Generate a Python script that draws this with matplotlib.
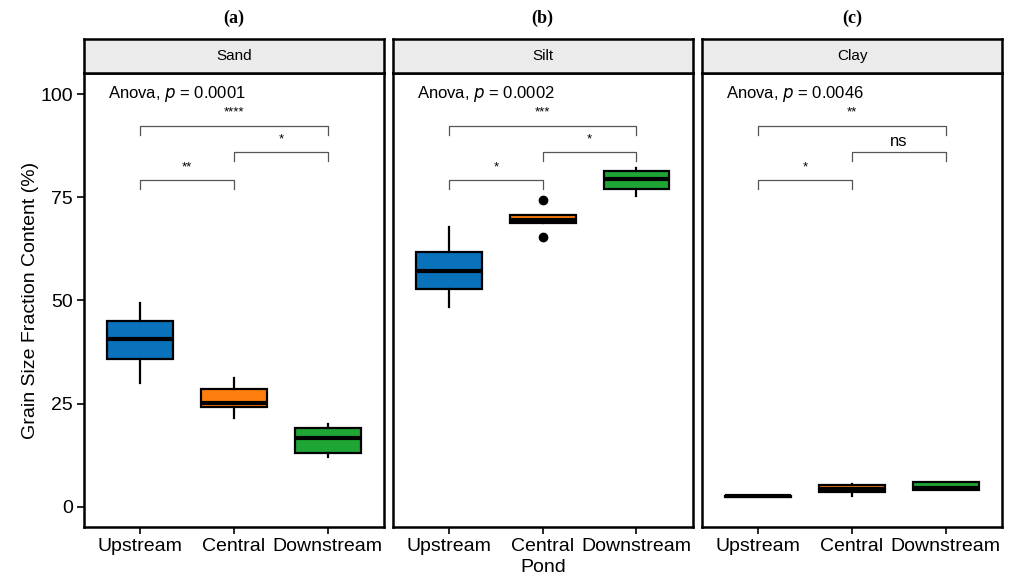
import matplotlib
matplotlib.use('Agg')
import matplotlib.pyplot as plt

plt.rcParams['font.family'] = ['Liberation Sans', 'DejaVu Sans']

# Datos (estadisticos de cada caja)
ponds = ['Upstream', 'Central', 'Downstream']
fractions = ['Sand', 'Silt', 'Clay']
panel_tags = ['(a)', '(b)', '(c)']
colors = ['#0A72BA', '#FF7F0E', '#1FA533']

# [whislo, q1, med, q3, whishi]
sand_stats = [[30.0, 35.8, 40.7, 45.0, 49.4],
              [21.5, 24.2, 25.2, 28.6, 31.2],
              [12.1, 13.1, 16.7, 19.1, 20.1]]
silt_stats = [[48.5, 52.8, 57.1, 61.8, 67.8],
              [69.0, 68.8, 69.4, 70.7, 70.7],
              [75.3, 77.1, 79.5, 81.4, 82.0]]
clay_stats = [[2.3, 2.3, 2.5, 2.7, 2.7],
              [2.7, 3.5, 4.4, 5.2, 5.5],
              [4.1, 4.1, 4.5, 5.9, 5.9]]
silt_fliers = [[], [74.3, 65.5], []]

anova_p = ['0.0001', '0.0002', '0.0046']

# comparaciones: (grupo1, grupo2, altura)
pairs = [(1, 2, 79.2), (2, 3, 86.0), (1, 3, 92.4)]
sig_labels = [['**', '*', '****'],
              ['*', '*', '***'],
              ['*', 'ns', '**']]

all_stats = [sand_stats, silt_stats, clay_stats]
all_fliers = [[[], [], []], silt_fliers, [[], [], []]]

fig = plt.figure(figsize=(10.11, 5.79), dpi=100)
lefts = [84 / 1011, 392.7 / 1011, 702 / 1011]
width = 300 / 1011
bottom = 1 - 527 / 579
height = (527 - 72.7) / 579
strip_h = (72.7 - 39.3) / 579

for i, frac in enumerate(fractions):
    ax = fig.add_axes([lefts[i], bottom, width, height])
    bstats = []
    for j, s in enumerate(all_stats[i]):
        bstats.append({'whislo': s[0], 'q1': s[1], 'med': s[2], 'q3': s[3],
                       'whishi': s[4], 'fliers': all_fliers[i][j], 'label': ponds[j]})
    bp = ax.bxp(bstats, positions=[1, 2, 3], widths=0.7, patch_artist=True,
                showcaps=False,
                boxprops=dict(edgecolor='black', linewidth=1.6),
                medianprops=dict(color='black', linewidth=3),
                whiskerprops=dict(color='black', linewidth=1.6),
                flierprops=dict(marker='o', markerfacecolor='black',
                                markeredgecolor='black', markersize=6))
    for patch, c in zip(bp['boxes'], colors):
        patch.set_facecolor(c)

    # brackets de significancia
    for (g1, g2, h), lab in zip(pairs, sig_labels[i]):
        tick = 2.2
        ax.plot([g1, g1, g2, g2], [h - tick, h, h, h - tick], color='#555555', lw=0.9)
        if lab == 'ns':
            ax.text((g1 + g2) / 2, h + 0.8, lab, ha='center', va='bottom', fontsize=12)
        else:
            ax.text((g1 + g2) / 2, h + 1.6, lab, ha='center', va='bottom', fontsize=9.5)

    ax.text(0.66, 100, 'Anova, $\\it{p}$ = ' + anova_p[i], ha='left', va='center',
            fontsize=12)

    ax.set_xlim(0.4, 3.6)
    ax.set_ylim(-4.9, 105.2)
    ax.set_xticks([1, 2, 3])
    ax.set_xticklabels(ponds, fontsize=14)
    ax.set_yticks([0, 25, 50, 75, 100])
    if i == 0:
        ax.set_yticklabels(['0', '25', '50', '75', '100'], fontsize=14)
    else:
        ax.tick_params(axis='y', left=False, labelleft=False)
    ax.tick_params(direction='out', length=5, width=1.2, pad=3)
    for sp in ax.spines.values():
        sp.set_linewidth(1.8)

    # strip
    sax = fig.add_axes([lefts[i], bottom + height, width, strip_h])
    sax.set_facecolor('#EBEBEB')
    sax.set_xticks([])
    sax.set_yticks([])
    for sp in sax.spines.values():
        sp.set_linewidth(1.8)
    sax.text(0.5, 0.5, frac, ha='center', va='center', fontsize=11, transform=sax.transAxes)

    fig.text(lefts[i] + width / 2, 1 - 18 / 579, panel_tags[i], ha='center', va='center',
             fontsize=13, fontweight='bold', family='Liberation Serif')

fig.text(543.5 / 1011, 1 - 568 / 579, 'Pond', ha='center', va='center', fontsize=14)
fig.text(31 / 1011, 1 - 300 / 579, 'Grain Size Fraction Content (%)', ha='center',
         va='center', rotation=90, fontsize=14)

plt.savefig('out.png', dpi=100)
plt.close()
